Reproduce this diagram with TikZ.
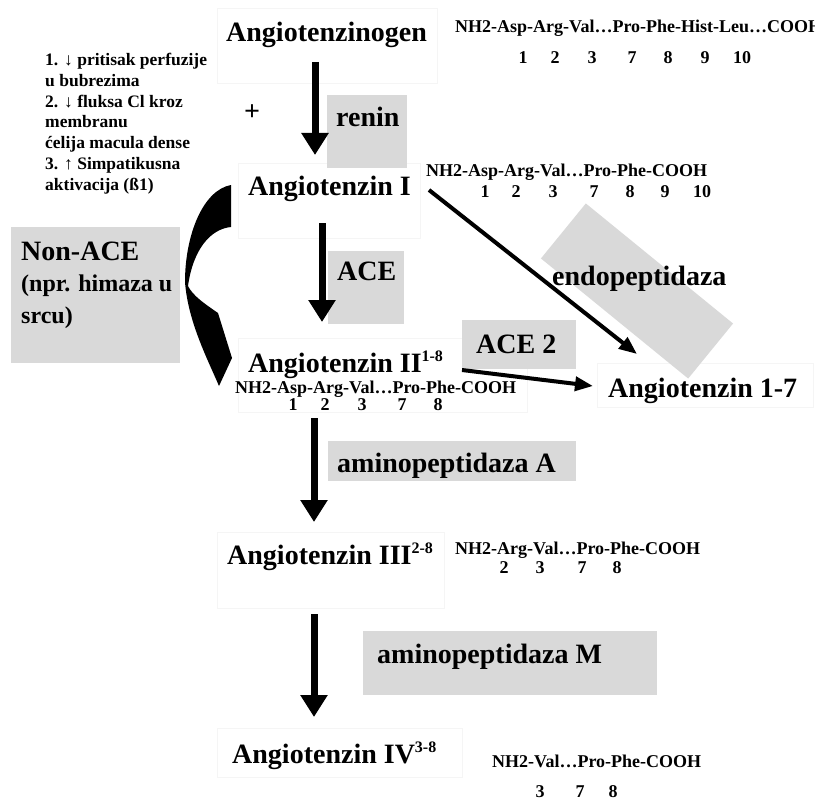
\documentclass[tikz,border=0pt]{standalone}
\usepackage{fontspec}
\setmainfont{Liberation Serif}
\usetikzlibrary{arrows.meta,calc}
\newcommand{\expo}[1]{\raisebox{11pt}{\fontsize{16}{16}\selectfont #1}}

\begin{document}
\begin{tikzpicture}[x=1pt,y=-1pt,font=\bfseries,
  mainlbl/.style={font=\bfseries\fontsize{28}{32}\selectfont,inner sep=0,anchor=base west},
  seqtxt/.style={font=\bfseries\fontsize{18}{20}\selectfont,inner sep=0,anchor=base west},
  numtxt/.style={font=\bfseries\fontsize{18}{20}\selectfont,inner sep=0,anchor=base},
  enzfill/.style={fill=black!15},
  faintbox/.style={draw=black!4,line width=0.8pt},
  bigarr/.style={line width=7pt,-{Triangle[width=26pt,length=22pt]}},
  thinarr/.style={line width=4pt,-{Triangle[width=14pt,length=18pt]}}]
  \useasboundingbox (0,0) rectangle (815,800);
  \fill[white] (0,0) rectangle (815,800);
  % faint frames
  \draw[faintbox] (217,8) rectangle (437,83);
  \draw[faintbox] (238,163) rectangle (420,238);
  \draw[faintbox] (238,338) rectangle (527,412);
  \draw[faintbox] (597,363) rectangle (813,407);
  \draw[faintbox] (217,532) rectangle (444,608);
  \draw[faintbox] (217,728) rectangle (462,777);
  % enzyme boxes
  \fill[enzfill] (327,95) rectangle (407,168);
  \fill[enzfill] (328,251) rectangle (404,324);
  \fill[enzfill] (11,227) rectangle (180,363);
  \fill[enzfill] (462,320) rectangle (576,369);
  \node[enzfill,rotate=-39.2,minimum width=190pt,minimum height=71pt,inner sep=0] (endobox) at (637,291) {};
  \fill[enzfill] (328,441) rectangle (576,481);
  \fill[enzfill] (363,631) rectangle (657,695);
  % stimuli
  \node[font=\bfseries\fontsize{17.5}{20.8}\selectfont,align=left,inner sep=0,anchor=north west] (stim) at (45,53)
    {1. ↓ pritisak perfuzije\\u bubrezima\\2. ↓ fluksa Cl kroz\\membranu\\ćelija macula dense\\3. ↑ Simpatikusna\\aktivacija (ß1)};
  \node[mainlbl,anchor=center] (plus) at (252,113) {+};
  % peptides
  \node[mainlbl] (gen) at (226,42) {Angiotenzinogen};
  \node[mainlbl] (ang1) at (248,195) {Angiotenzin I};
  \node[mainlbl] (ang2) at (248,372) {Angiotenzin II\expo{1-8}};
  \node[mainlbl] (ang17) at (608,397) {Angiotenzin 1-7};
  \node[mainlbl] (ang3) at (227,564) {Angiotenzin III\expo{2-8}};
  \node[mainlbl] (ang4) at (232,763) {Angiotenzin IV\expo{3-8}};
  % enzymes
  \node[mainlbl] (renin) at (336,127) {renin};
  \node[mainlbl] (ace) at (337,280) {ACE};
  \node[font=\bfseries\fontsize{24}{31.5}\selectfont,align=left,inner sep=0,anchor=north west] (nonace) at (21,241.5)
    {{\fontsize{28}{32}\selectfont Non-ACE}\\(npr. himaza u\\srcu)};
  \node[mainlbl] (ace2) at (476,353) {ACE 2};
  \node[mainlbl] (endo) at (552,285) {endopeptidaza};
  \node[mainlbl] (apa) at (337,472) {aminopeptidaza A};
  \node[mainlbl] (apm) at (377,663) {aminopeptidaza M};
  % sequences
  \node[seqtxt] (gensq) at (455,33) {NH2-Asp-Arg-Val…Pro-Phe-Hist-Leu…COOH};
  \foreach \n/\x in {1/523,2/555,3/592,7/632,8/668,9/705,10/742}
    \node[numtxt] (gensq\n) at (\x,64) {\n};
  \node[seqtxt] (ang1sq) at (426,176) {NH2-Asp-Arg-Val…Pro-Phe-COOH};
  \foreach \n/\x in {1/485,2/516,3/553,7/594,8/630,9/665,10/702}
    \node[numtxt] (ang1sq\n) at (\x,197) {\n};
  \node[seqtxt] (ang2sq) at (235,393) {NH2-Asp-Arg-Val…Pro-Phe-COOH};
  \foreach \n/\x in {1/293,2/325,3/362,7/402,8/438}
    \node[numtxt] (ang2sq\n) at (\x,410) {\n};
  \node[seqtxt] (ang3sq) at (455,554) {NH2-Arg-Val…Pro-Phe-COOH};
  \foreach \n/\x in {2/504,3/540,7/582,8/617}
    \node[numtxt] (ang3sq\n) at (\x,573) {\n};
  \node[seqtxt] (ang4sq) at (492,767) {NH2-Val…Pro-Phe-COOH};
  \foreach \n/\x in {3/540,7/580,8/613}
    \node[numtxt] (ang4sq\n) at (\x,797) {\n};
  % conversions
  \draw[bigarr] ($(gen.base west)+(89,20)$) -- ($(ang1.base west)+(67,-40)$);
  \draw[bigarr] ($(ang1.base west)+(74,28)$) -- ($(ang2.base west)+(74,-50)$);
  \draw[bigarr] ($(ang2sq.base west)+(79,25)$) -- ($(ang3.base west)+(87,-42)$);
  \draw[bigarr] ($(ang3.base west)+(87,50)$) -- ($(ang4.base west)+(82,-46)$);
  \draw[thinarr] ($(ang1.base west)+(181,-5)$) -- ($(ang17.base west)+(29,-43)$);
  \draw[thinarr] ($(ang2.base west)+(214,-2)$) -- ($(ang17.base west)+(-15,-11)$);
  % non-ACE bypass
  \fill (231,185) .. controls (203,190) and (185,235) .. (185,282)
    .. controls (188,322) and (208,360) .. (219,386)
    -- (232,358) -- (218,313)
    .. controls (205,304) and (193,296) .. (188,286)
    .. controls (193,250) and (210,229) .. (231,227) -- cycle;
\end{tikzpicture}
\end{document}
